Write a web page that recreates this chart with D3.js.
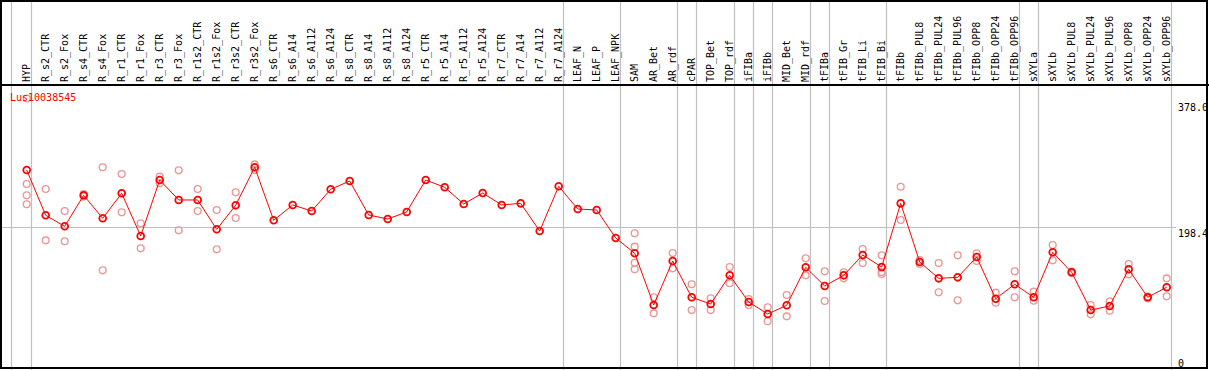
<!DOCTYPE html>
<html><head><meta charset="utf-8">
<script src="https://cdn.jsdelivr.net/npm/d3@7"></script>
<style>
html,body{margin:0;padding:0;background:#fff;}
svg{display:block;}
text{font-family:"DejaVu Sans Mono",monospace;font-size:10px;}
</style></head>
<body>
<svg id="chart" width="1209" height="370"></svg>
<script>
const categories = ["HYP","R_s2_CTR","R_s2_Fox","R_s4_CTR","R_s4_Fox","R_r1_CTR","R_r1_Fox","R_r3_CTR","R_r3_Fox","R_r1s2_CTR","R_r1s2_Fox","R_r3s2_CTR","R_r3s2_Fox","R_s6_CTR","R_s6_A14","R_s6_A112","R_s6_A124","R_s8_CTR","R_s8_A14","R_s8_A112","R_s8_A124","R_r5_CTR","R_r5_A14","R_r5_A112","R_r5_A124","R_r7_CTR","R_r7_A14","R_r7_A112","R_r7_A124","LEAF_N","LEAF_P","LEAF_NPK","SAM","AR_Bet","AR_rdf","cPAR","TOP_Bet","TOP_rdf","iFIBa","iFIBb","MID_Bet","MID_rdf","tFIBa","tFIB_Gr","tFIB_Li","tFIB_Bi","tFIBb","tFIBb_PUL8","tFIBb_PUL24","tFIBb_PUL96","tFIBb_OPP8","tFIBb_OPP24","tFIBb_OPP96","sXYLa","sXYLb","sXYLb_PUL8","sXYLb_PUL24","sXYLb_PUL96","sXYLb_OPP8","sXYLb_OPP24","sXYLb_OPP96"];

const meanValues = [278.1,214.8,199.4,242.7,210.6,245.5,185.9,264.1,236.2,236.2,195.2,228.8,281.9,207.8,229.2,220.8,251.1,262.7,215.2,209.6,219.4,264.1,253.9,230.6,245.9,229.2,231.5,192.8,255.3,223.6,222.2,183.1,161.7,89.4,150.9,100.2,90.8,130.9,93.6,76.9,89.0,142.1,116.0,130.9,159.3,142.5,231.5,149.5,126.7,128.1,156.5,98.2,118.4,100.2,163.1,135.1,82.4,88.0,139.3,100.2,114.2];

const replicateValues = [
  [378.0,258.5,242.7,230.2],
  [251.5,179.8],
  [220.8,178.5],
  [244.5,241.0],
  [281.9,137.9],
  [272.5,219.0],
  [203.6,168.7],
  [268.7,259.5],
  [277.7,193.8],
  [251.5,220.8],
  [222.2,167.3],
  [246.9,211.0],
  [286.0,278.0],
  [],[],[],[],[],[],[],[],[],[],[],[],[],[],[],[],[],[],[],
  [189.6,170.9,148.5,139.3],
  [100.2,77.8],
  [162.1,140.7],
  [118.4,82.4],
  [98.8,82.4],
  [142.5,119.8],
  [97.8,89.4],
  [86.2,66.7],
  [103.4,73.6],
  [154.7,130.9],
  [136.5,95.0],
  [135.1,126.7],
  [167.7,148.1],
  [158.9,135.5,132.8],
  [254.7,208.2],
  [152.3,146.7],
  [148.1,107.2],
  [158.9,96.0],
  [161.7,150.9],
  [106.6,92.6],
  [136.5,100.2],
  [108.0,95.4],
  [173.3,151.9],
  [136.0,134.0],
  [89.4,76.4],
  [94.6,81.5],
  [146.7,132.3],
  [101.0,98.8],
  [126.7,101.6]
];

const groupEnds = ["HYP","R_r7_A124","LEAF_NPK","AR_rdf","cPAR","TOP_rdf","iFIBa","iFIBb","MID_rdf","tFIBa","tFIB_Bi","tFIBb_OPP96","sXYLa","sXYLb_OPP96"];
const yTickValues = [0, 198.4, 378.0];
const yTickLabels = ["0", "198.4", "378.0"];
const geneName = "Lus10038545";

const svg = d3.select("#chart");
const W = 1209, H = 370;

const x = d3.scalePoint().domain(categories).range([26.7, 1166.7]).padding(0);
const y = d3.scaleLinear().domain([0, 378]).range([369, 98.5]);

// vertical group separators
const sepX = [x(categories[0]) - 16].concat(groupEnds.map(c => x(c) + 4));
svg.append("g").selectAll("line").data(sepX).join("line")
  .attr("x1", d => Math.round(d) + 0.5).attr("x2", d => Math.round(d) + 0.5)
  .attr("y1", 0).attr("y2", H)
  .attr("stroke", "#c0c0c0").attr("stroke-width", 1.2);

// horizontal grid at middle tick
svg.append("line")
  .attr("x1", 0).attr("x2", 1176)
  .attr("y1", Math.round(y(198.4)) + 0.5).attr("y2", Math.round(y(198.4)) + 0.5)
  .attr("stroke", "#c0c0c0").attr("stroke-width", 1.2);

// header labels
svg.append("g").selectAll("text").data(categories).join("text")
  .attr("transform", d => `translate(${x(d) + 3.5},82) rotate(-90)`)
  .attr("fill", "#000")
  .text(d => d);

// y axis labels on the right
const yAxis = d3.axisRight(y).tickValues(yTickValues).tickFormat((d, i) => yTickLabels[i]).tickSize(0);
const ag = svg.append("g").attr("transform", "translate(1176,0)").call(yAxis);
ag.select(".domain").remove();
ag.selectAll("text")
  .attr("x", 2)
  .attr("dy", null)
  .attr("y", d => (d === 0 ? -3 : (d > 300 ? 12 : 9)))
  .attr("fill", "#000")
  .style("font-family", "'DejaVu Sans Mono',monospace")
  .style("font-size", "10px");

// replicate points
const reps = [];
replicateValues.forEach((arr, i) => arr.forEach(v => reps.push({c: categories[i], v})));
svg.append("g").selectAll("circle").data(reps).join("circle")
  .attr("cx", d => x(d.c)).attr("cy", d => y(d.v)).attr("r", 3.4)
  .attr("fill", "none").attr("stroke", "#ea9999").attr("stroke-width", 1.4);

// mean line
const line = d3.line().x((d, i) => x(categories[i])).y(d => y(d));
svg.append("path").datum(meanValues).attr("d", line)
  .attr("fill", "none").attr("stroke", "#ff0000").attr("stroke-width", 1);

// mean points
svg.append("g").selectAll("circle").data(meanValues).join("circle")
  .attr("cx", (d, i) => x(categories[i])).attr("cy", d => y(d)).attr("r", 3.4)
  .attr("fill", "none").attr("stroke", "#ff0000").attr("stroke-width", 1.8);

// title
svg.append("text").attr("x", 10).attr("y", 101).attr("fill", "#ff0000").text(geneName);

// header separator and frame
svg.append("line").attr("x1", 0).attr("x2", W).attr("y1", 85).attr("y2", 85)
  .attr("stroke", "#000").attr("stroke-width", 2);
svg.append("rect").attr("x", 1).attr("y", 1).attr("width", 1206).attr("height", 367)
  .attr("fill", "none").attr("stroke", "#000").attr("stroke-width", 2);
</script>
</body></html>
